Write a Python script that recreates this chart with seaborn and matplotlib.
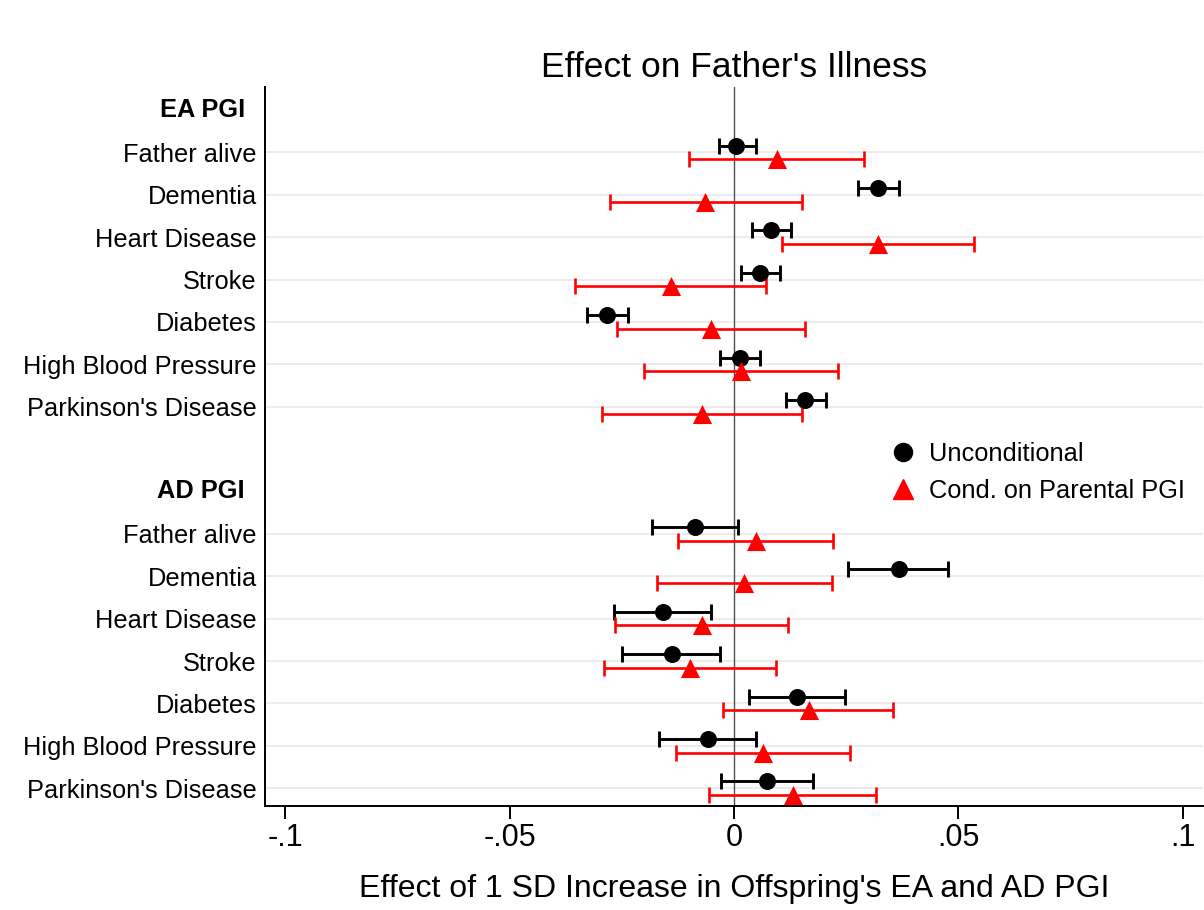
import numpy as np
import pandas as pd
import matplotlib
matplotlib.use("Agg")
import matplotlib.pyplot as plt
import seaborn as sns
from matplotlib.lines import Line2D

# ---------------- data ----------------
outcomes = ["Father alive", "Dementia", "Heart Disease", "Stroke", "Diabetes",
            "High Blood Pressure", "Parkinson's Disease"]
groups = ["EA PGI", "AD PGI"]
series = ["Unconditional", "Cond. on Parental PGI"]
xticks = [-0.1, -0.05, 0, 0.05, 0.1]
xtick_labels = ["-.1", "-.05", "0", ".05", ".1"]

ea_unc_est = [0.0005, 0.0321, 0.0083, 0.0057, -0.0282, 0.0013, 0.0158]
ea_unc_lo = [-0.0033, 0.0277, 0.0040, 0.0015, -0.0327, -0.0032, 0.0115]
ea_unc_hi = [0.0050, 0.0367, 0.0128, 0.0103, -0.0237, 0.0057, 0.0204]
ea_cond_est = [0.0095, -0.0064, 0.0321, -0.0141, -0.0051, 0.0016, -0.0071]
ea_cond_lo = [-0.0100, -0.0277, 0.0107, -0.0354, -0.0260, -0.0200, -0.0294]
ea_cond_hi = [0.0290, 0.0152, 0.0534, 0.0071, 0.0158, 0.0232, 0.0152]

ad_unc_est = [-0.0088, 0.0367, -0.0159, -0.0139, 0.0141, -0.0059, 0.0073]
ad_unc_lo = [-0.0183, 0.0255, -0.0267, -0.0249, 0.0034, -0.0167, -0.0029]
ad_unc_hi = [0.0008, 0.0476, -0.0051, -0.0032, 0.0247, 0.0049, 0.0175]
ad_cond_est = [0.0048, 0.0022, -0.0072, -0.0098, 0.0166, 0.0064, 0.0131]
ad_cond_lo = [-0.0124, -0.0172, -0.0265, -0.0289, -0.0025, -0.0130, -0.0055]
ad_cond_hi = [0.0220, 0.0218, 0.0120, 0.0093, 0.0354, 0.0259, 0.0316]

# ---------------- long table ----------------
block = {
    ("EA PGI", "Unconditional"): (ea_unc_est, ea_unc_lo, ea_unc_hi),
    ("EA PGI", "Cond. on Parental PGI"): (ea_cond_est, ea_cond_lo, ea_cond_hi),
    ("AD PGI", "Unconditional"): (ad_unc_est, ad_unc_lo, ad_unc_hi),
    ("AD PGI", "Cond. on Parental PGI"): (ad_cond_est, ad_cond_lo, ad_cond_hi),
}
offsets = {"Unconditional": -0.16, "Cond. on Parental PGI": 0.16}
rows = []
for g_i, g in enumerate(groups):
    for s in series:
        est, lo, hi = block[(g, s)]
        for i, o in enumerate(outcomes):
            row_pos = g_i * 9 + 1 + i
            rows.append(dict(group=g, series=s, outcome=o, row=row_pos,
                             y=row_pos + offsets[s], est=est[i], lo=lo[i], hi=hi[i]))
df = pd.DataFrame(rows)

# ---------------- style ----------------
sns.set_theme(style="white")
plt.rcParams["font.family"] = ["Liberation Sans", "DejaVu Sans"]
for k in ["text.color", "axes.labelcolor", "xtick.color", "ytick.color"]:
    plt.rcParams[k] = "black"

colors = {"Unconditional": "black", "Cond. on Parental PGI": "#ff0000"}
markers = {"Unconditional": "o", "Cond. on Parental PGI": "^"}

fig = plt.figure(figsize=(12.04, 9.10), dpi=100)
W, H = 1204, 910
ax = fig.add_axes([265 / W, 1 - 806 / H, (1203 - 265) / W, (806 - 87) / H])

# gridlines at item rows
item_rows = sorted(df["row"].unique())
for r in item_rows:
    ax.axhline(r, color="#ebebeb", lw=1.3, zorder=0)
ax.axvline(0, color="#505050", lw=1.0, zorder=1)

# error bars
for s in series:
    sub = df[df["series"] == s]
    lw = 2.1 if s == "Unconditional" else 1.9
    ax.errorbar(sub["est"], sub["y"],
                xerr=[sub["est"] - sub["lo"], sub["hi"] - sub["est"]],
                fmt="none", ecolor=colors[s], elinewidth=lw,
                capsize=6, capthick=lw, zorder=2)

# points
sns.scatterplot(data=df[df["series"] == "Unconditional"], x="est", y="y",
                color="black", marker="o", s=150, edgecolor="black",
                linewidth=0, ax=ax, zorder=3, legend=False)
sns.scatterplot(data=df[df["series"] == "Cond. on Parental PGI"], x="est", y="y",
                color="#ff0000", marker="^", s=190, edgecolor="#ff0000",
                linewidth=0, ax=ax, zorder=3, legend=False)

ax.set_xlim(-0.1045, 0.1045)
ax.set_ylim(16.42, -0.543)

ax.set_xticks(xticks)
ax.set_xticklabels(xtick_labels, fontsize=22)
ax.tick_params(axis="x", length=9, width=1.4, color="black", pad=3, bottom=True)

tick_rows = [g_i * 9 + 1 + i for g_i in range(len(groups)) for i in range(len(outcomes))]
tick_labels = [o for _ in groups for o in outcomes]
ax.set_yticks(tick_rows)
ax.set_yticklabels(tick_labels, fontsize=18.3)
ax.tick_params(axis="y", length=0, pad=6)

for g_i, g in enumerate(groups):
    ax.text(-20 / 938, g_i * 9, g, transform=ax.get_yaxis_transform(),
            ha="right", va="center", fontsize=18.3, fontweight="bold")

for side in ["top", "right"]:
    ax.spines[side].set_visible(False)
for side in ["left", "bottom"]:
    ax.spines[side].set_color("black")
    ax.spines[side].set_linewidth(1.4)

ax.set_xlabel("Effect of 1 SD Increase in Offspring's EA and AD PGI", fontsize=23, labelpad=15)
ax.set_ylabel("")
ax.set_title("Effect on Father's Illness", fontsize=25.5, pad=7)

handles = [Line2D([], [], color=colors[s], marker=markers[s], linestyle="none",
                  markersize=13 if s == "Unconditional" else 14)
           for s in series]
ax.legend(handles, series, loc="upper left", bbox_to_anchor=(890 / W, 1 - 442 / H),
          bbox_transform=fig.transFigure, frameon=False, fontsize=18.3,
          handlelength=1.0, handletextpad=0.55, labelspacing=0.5,
          borderpad=0, borderaxespad=0)

fig.savefig("out.png", dpi=100, facecolor="white")
